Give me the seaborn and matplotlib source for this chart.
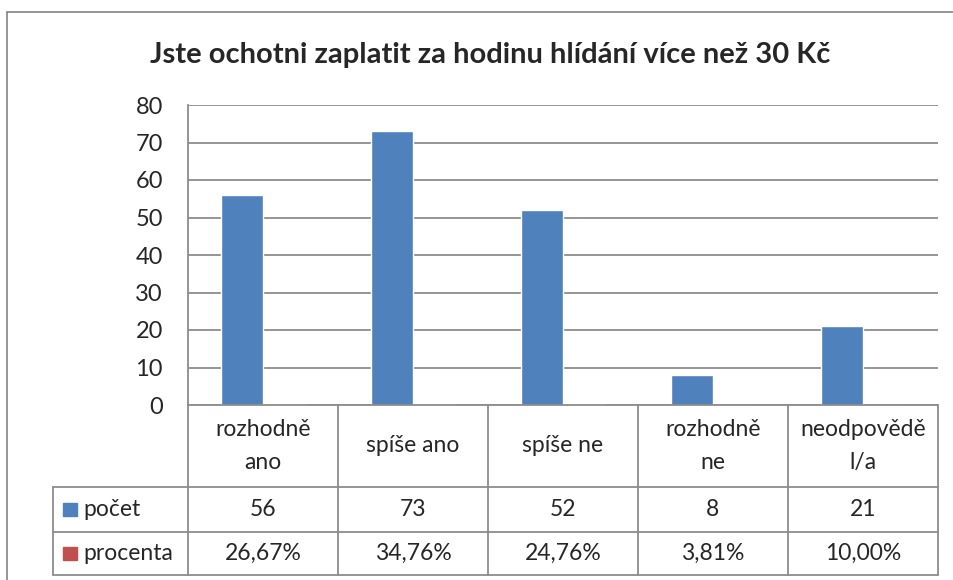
import matplotlib
matplotlib.use("Agg")
import matplotlib.pyplot as plt
from matplotlib.lines import Line2D
from matplotlib.patches import Rectangle
import seaborn as sns
import pandas as pd

# data
kategorie = ['rozhodně\nano', 'spíše ano', 'spíše ne', 'rozhodně\nne', 'neodpovědě\nl/a']
pocet = [56, 73, 52, 8, 21]
procenta = [0.2667, 0.3476, 0.2476, 0.0381, 0.1000]
procenta_text = ['26,67%', '34,76%', '24,76%', '3,81%', '10,00%']
serie = ['počet', 'procenta']
barvy = ['#4F81BD', '#C0504D']

df = pd.DataFrame({
    'kategorie': kategorie * 2,
    'serie': [serie[0]] * len(kategorie) + [serie[1]] * len(kategorie),
    'hodnota': pocet + procenta,
})

sns.set_style('white')
plt.rcParams['font.family'] = ['Lato', 'DejaVu Sans']

W, H = 954, 580
fig = plt.figure(figsize=(W / 100, H / 100), dpi=100)
ax = fig.add_axes([188 / W, (H - 405) / H, 750 / W, 300 / H])

sns.barplot(data=df, x='kategorie', y='hodnota', hue='serie', hue_order=serie,
            palette=barvy, saturation=1, width=0.56, legend=False, ax=ax)

grid = '#8c8c8c'
ax.set_ylim(0, 80)
ax.set_yticks(range(0, 81, 10))
ax.set_xlim(-0.5, len(kategorie) - 0.5)
ax.yaxis.grid(True, color=grid, lw=1.3)
ax.set_axisbelow(True)
ax.set_xticks([])
ax.set_xlabel('')
ax.set_ylabel('')
ax.tick_params(axis='y', length=0, pad=18, labelsize=17)
for s in ['top', 'right', 'bottom']:
    ax.spines[s].set_visible(False)
ax.spines['left'].set_color(grid)
ax.spines['left'].set_linewidth(1.3)

fig.text(490 / W, 1 - 55 / H, 'Jste ochotni zaplatit za hodinu hlídání více než 30 Kč',
         ha='center', va='center', fontsize=21, fontweight='bold')

# data table under the axis
tr = ax.get_xaxis_transform()
n = len(kategorie)
radky = [0, -82 / 300, -127 / 300, -170 / 300]
x_left = -0.5 - 135 / 150
x_right = n - 0.5
kw = dict(transform=tr, color=grid, lw=1.3, clip_on=False)
ax.add_line(Line2D([-0.5, x_right], [radky[0], radky[0]], **kw))
for y in radky[1:]:
    ax.add_line(Line2D([x_left, x_right], [y, y], **kw))
ax.add_line(Line2D([x_left, x_left], [radky[1], radky[3]], **kw))
for i in range(n + 1):
    ax.add_line(Line2D([i - 0.5, i - 0.5], [radky[0], radky[3]], **kw))

fs = 16.5
for i, k in enumerate(kategorie):
    ax.text(i, (radky[0] + radky[1]) / 2, k, transform=tr, ha='center', va='center',
            fontsize=fs, linespacing=1.7)
    ax.text(i, (radky[1] + radky[2]) / 2, str(pocet[i]), transform=tr, ha='center',
            va='center', fontsize=fs)
    ax.text(i, (radky[2] + radky[3]) / 2, procenta_text[i], transform=tr, ha='center',
            va='center', fontsize=fs)

for j, (nazev, barva) in enumerate(zip(serie, barvy)):
    yc = (radky[j + 1] + radky[j + 2]) / 2
    ax.add_patch(Rectangle((x_left + 10 / 150, yc - 6.5 / 300), 14 / 150, 13 / 300,
                           transform=tr, color=barva, clip_on=False))
    ax.text(x_left + 30 / 150, yc, nazev, transform=tr, ha='left', va='center', fontsize=fs)

# outer chart frame
fig.add_artist(Line2D([7 / W, 7 / W], [0, 1 - 12 / H], transform=fig.transFigure, color=grid, lw=1.3))
fig.add_artist(Line2D([7 / W, 1], [1 - 12 / H, 1 - 12 / H], transform=fig.transFigure, color=grid, lw=1.3))

fig.savefig('out.png', dpi=100)
